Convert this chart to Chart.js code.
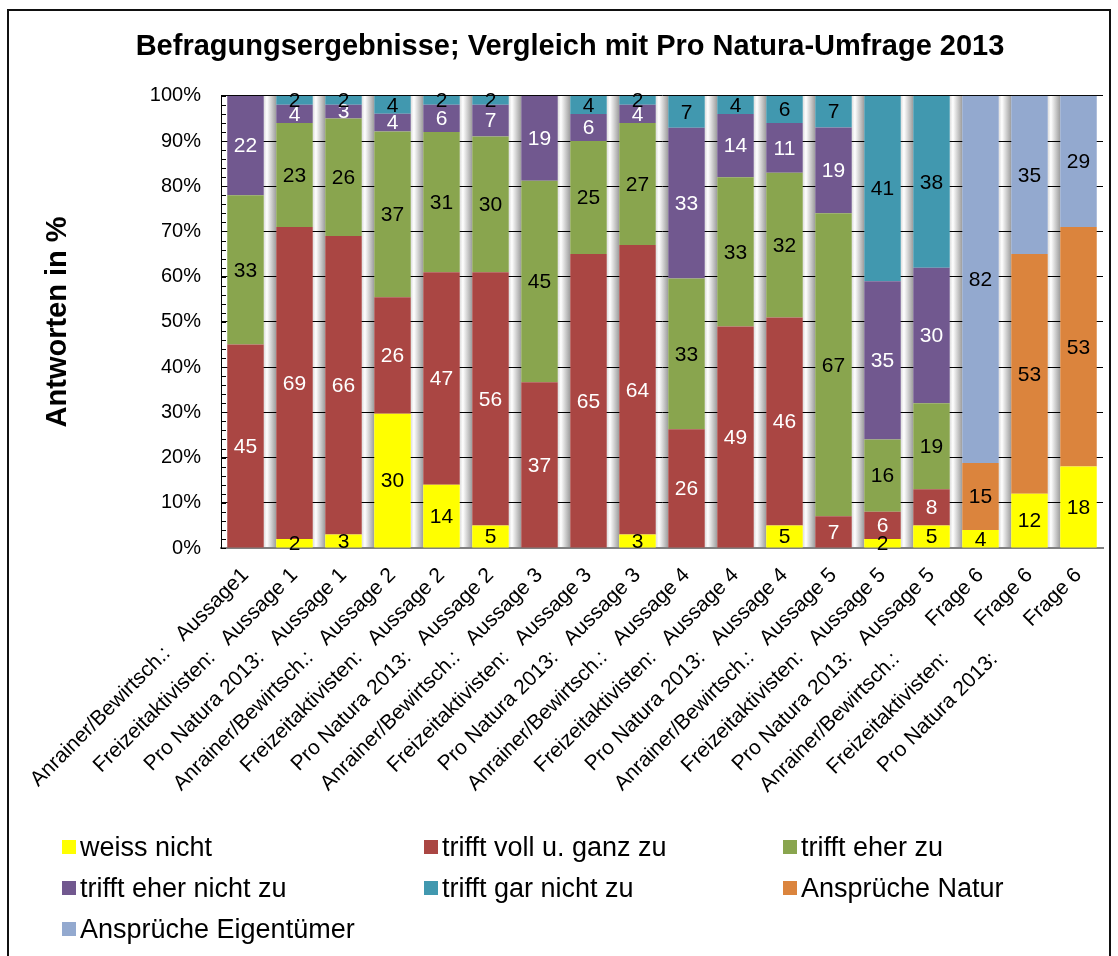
<!DOCTYPE html>
<html>
<head>
<meta charset="utf-8">
<script src="https://cdn.jsdelivr.net/npm/chart.js@4.4.0/dist/chart.umd.min.js"></script>
<style>
html,body{margin:0;padding:0;background:#fff;}
#wrap{position:relative;width:1118px;height:956px;overflow:hidden;background:#fff;}
#frame{position:absolute;left:7px;top:9px;width:1104px;height:980px;border:2px solid #111;box-sizing:border-box;pointer-events:none;}
#c{position:absolute;left:0;top:0;}
.li{position:absolute;white-space:nowrap;font-family:'Liberation Sans',Arial,sans-serif;font-size:27px;line-height:30px;color:#000;}
.sw{position:absolute;width:14px;height:14px;}
</style>
</head>
<body>
<div id="wrap">
<canvas id="c" width="1118" height="956"></canvas>
<div id="legend"></div>
<div id="frame"></div>
</div>
<script>
const chartTitle = 'Befragungsergebnisse; Vergleich mit Pro Natura-Umfrage 2013';
const yAxisTitle = 'Antworten in %';
const categories = [
  'Anrainer/Bewirtsch.:   Aussage1',
  'Freizeitaktivisten:   Aussage 1',
  'Pro Natura 2013:   Aussage 1',
  'Anrainer/Bewirtsch.:   Aussage 2',
  'Freizeitaktivisten:   Aussage 2',
  'Pro Natura 2013:   Aussage 2',
  'Anrainer/Bewirtsch.:   Aussage 3',
  'Freizeitaktivisten:   Aussage 3',
  'Pro Natura 2013:   Aussage 3',
  'Anrainer/Bewirtsch.:   Aussage 4',
  'Freizeitaktivisten:   Aussage 4',
  'Pro Natura 2013:   Aussage 4',
  'Anrainer/Bewirtsch.:   Aussage 5',
  'Freizeitaktivisten:   Aussage 5',
  'Pro Natura 2013:   Aussage 5',
  'Anrainer/Bewirtsch.:        Frage 6',
  'Freizeitaktivisten:        Frage 6',
  'Pro Natura 2013:        Frage 6'
];
const seriesNames = ['weiss nicht','trifft voll u. ganz zu','trifft eher zu','trifft eher nicht zu','trifft gar nicht zu','Ansprüche Natur','Ansprüche Eigentümer'];
const weissNicht        = [0, 2, 3, 30, 14, 5, 0, 0, 3, 0, 0, 5, 0, 2, 5, 4, 12, 18];
const trifftVoll        = [45, 69, 66, 26, 47, 56, 37, 65, 64, 26, 49, 46, 7, 6, 8, 0, 0, 0];
const trifftEher        = [33, 23, 26, 37, 31, 30, 45, 25, 27, 33, 33, 32, 67, 16, 19, 0, 0, 0];
const trifftEherNicht   = [22, 4, 3, 4, 6, 7, 19, 6, 4, 33, 14, 11, 19, 35, 30, 0, 0, 0];
const trifftGarNicht    = [0, 2, 2, 4, 2, 2, 0, 4, 2, 7, 4, 6, 7, 41, 38, 0, 0, 0];
const anspruecheNatur   = [0, 0, 0, 0, 0, 0, 0, 0, 0, 0, 0, 0, 0, 0, 0, 15, 53, 53];
const anspruecheEigent  = [0, 0, 0, 0, 0, 0, 0, 0, 0, 0, 0, 0, 0, 0, 0, 82, 35, 29];
const yTickValues = [0, 10, 20, 30, 40, 50, 60, 70, 80, 90, 100];

const rawSeries = [weissNicht, trifftVoll, trifftEher, trifftEherNicht, trifftGarNicht, anspruecheNatur, anspruecheEigent];
const seriesColors = ['#FFFF00','#AA4643','#89A54E','#71588F','#4198AF','#DB843D','#93A9CF'];
const labelColors = ['#000','#fff','#000','#fff','#000','#000','#000'];

const FONT = "'Liberation Sans', Arial, sans-serif";
Chart.defaults.font.family = FONT;
Chart.defaults.color = '#000';

// 100% stacking: normalise each column by its total
const totals = categories.map((_, i) => rawSeries.reduce((s, arr) => s + arr[i], 0));
const datasets = rawSeries.map((arr, k) => ({
  label: seriesNames[k],
  data: arr.map((v, i) => v / totals[i] * 100),
  rawValues: arr,
  backgroundColor: seriesColors[k],
  borderWidth: 0,
  barPercentage: 0.745,
  categoryPercentage: 1.0
}));

// legend (HTML, three columns)
const legendCols = [62, 424, 783];
const legendRows = [847, 888, 929];
const legendEl = document.getElementById('legend');
seriesNames.forEach((name, k) => {
  const col = k % 3, row = Math.floor(k / 3);
  const sw = document.createElement('div');
  sw.className = 'sw';
  sw.style.left = legendCols[col] + 'px';
  sw.style.top = (legendRows[row] - 7) + 'px';
  sw.style.background = seriesColors[k];
  legendEl.appendChild(sw);
  const t = document.createElement('div');
  t.className = 'li';
  t.textContent = name;
  t.style.left = (legendCols[col] + 18) + 'px';
  t.style.top = (legendRows[row] - 15) + 'px';
  legendEl.appendChild(t);
});

const gapShade = {
  id: 'gapShade',
  beforeDraw(chart) {
    const ctx = chart.ctx, a = chart.chartArea;
    const els = chart.getDatasetMeta(0).data;
    ctx.save();
    for (let i = 1; i < els.length; i++) {
      const l = els[i - 1].x + els[i - 1].width / 2;
      const r = els[i].x - els[i].width / 2;
      const g = ctx.createLinearGradient(l, 0, r, 0);
      g.addColorStop(0, '#dcdcdc');
      g.addColorStop(0.25, '#ffffff');
      g.addColorStop(1, '#9c9c9c');
      ctx.fillStyle = g;
      ctx.fillRect(l, a.top, r - l, a.bottom - a.top);
    }
    ctx.restore();
  }
};

const minorTicks = {
  id: 'minorTicks',
  afterDraw(chart) {
    const ctx = chart.ctx, y = chart.scales.y;
    ctx.save();
    ctx.strokeStyle = '#000';
    ctx.lineWidth = 1;
    ctx.beginPath();
    y.ticks.forEach(t => {
      const py = Math.round(y.getPixelForValue(t.value)) + 0.5;
      ctx.moveTo(y.right, py);
      ctx.lineTo(y.right + 5, py);
    });
    ctx.stroke();
    ctx.restore();
  }
};

const valueLabels = {
  id: 'valueLabels',
  afterDatasetsDraw(chart) {
    const ctx = chart.ctx;
    ctx.save();
    ctx.font = '21px ' + FONT;
    ctx.textAlign = 'center';
    ctx.textBaseline = 'middle';
    chart.data.datasets.forEach((ds, di) => {
      const meta = chart.getDatasetMeta(di);
      meta.data.forEach((el, i) => {
        const v = ds.rawValues[i];
        if (!v) return;
        ctx.fillStyle = labelColors[di];
        ctx.fillText(String(v), el.x, (el.y + el.base) / 2 + 1);
      });
    });
    ctx.restore();
  }
};

new Chart(document.getElementById('c'), {
  type: 'bar',
  data: { labels: categories, datasets: datasets },
  options: {
    responsive: false,
    animation: false,
    layout: { padding: { left: 37, right: 15, top: 0, bottom: 128 } },
    plugins: {
      legend: { display: false },
      tooltip: { enabled: false },
      title: {
        display: true,
        text: chartTitle,
        color: '#000',
        font: { size: 29, weight: 'bold', family: FONT },
        padding: { top: 30, bottom: 31 }
      }
    },
    scales: {
      x: {
        stacked: true,
        grid: { display: false, drawTicks: false },
        border: { color: '#808080', width: 2 },
        ticks: { autoSkip: false, minRotation: 45, maxRotation: 45, padding: 15, labelOffset: 0, color: '#000', font: { size: 21, family: FONT } },
        afterFit(s) { s.height = 280; }
      },
      y: {
        stacked: true,
        min: 0,
        max: 100,
        afterBuildTicks(s) {
          const t = [];
          for (let v = 0; v <= 100; v += 2) t.push({ value: v });
          s.ticks = t;
        },
        ticks: {
          autoSkip: false,
          padding: 20,
          color: '#000',
          font: { size: 20, family: FONT },
          callback: v => yTickValues.includes(v) ? v + '%' : ''
        },
        grid: {
          drawTicks: false,
          lineWidth: 1,
          color: c => (c.tick && yTickValues.includes(c.tick.value)) ? '#000' : 'rgba(0,0,0,0)'
        },
        border: { color: '#000', width: 1 },
        title: {
          display: true,
          text: yAxisTitle,
          color: '#000',
          font: { size: 29, weight: 'bold', family: FONT },
          padding: { top: 4, bottom: 0 }
        },
        afterFit(s) { s.width = 184; }
      }
    }
  },
  plugins: [gapShade, minorTicks, valueLabels]
});
</script>
</body>
</html>
